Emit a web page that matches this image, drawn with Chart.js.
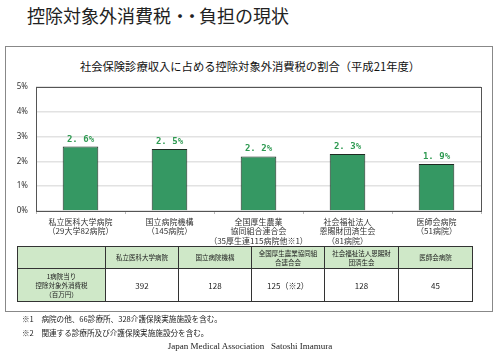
<!DOCTYPE html>
<html><head><meta charset="utf-8">
<script src="https://cdn.jsdelivr.net/npm/chart.js@4"></script>
<style>
html,body{margin:0;padding:0;background:#fff;}
body{width:500px;height:354px;position:relative;overflow:hidden;font-family:"Noto Sans CJK JP","Noto Sans",sans-serif;color:#222;}
#main{position:absolute;left:27px;top:3px;font-size:18px;line-height:24px;white-space:nowrap;}
#box{position:absolute;left:5px;top:46px;width:486px;height:264px;border:1px solid #888;}
#sub{position:absolute;left:0;width:500px;top:58px;text-align:center;font-size:11.3px;line-height:16px;white-space:nowrap;color:#111;}
#cv{position:absolute;left:0;top:0;}
table{position:absolute;left:17px;top:246px;border-collapse:collapse;table-layout:fixed;}
td{border:1px solid #333;text-align:center;vertical-align:middle;padding:0;font-size:6.5px;line-height:9px;}
td.g{background:#cfe8c8;}
td.v{font-size:8px;}
.fn{position:absolute;left:22px;font-size:7.6px;line-height:10px;white-space:nowrap;}
#credit{position:absolute;left:0;width:500px;text-align:center;top:340px;font-family:"Liberation Serif",serif;font-size:9px;line-height:12px;white-space:pre;}
</style></head><body>
<div id="main">控除対象外消費税<span style="letter-spacing:-6px">・・</span>&nbsp;負担の現状</div>
<div id="box"></div>
<div id="sub">社会保険診療収入に占める控除対象外消費税の割合（平成21年度）</div>
<canvas id="cv" width="500" height="354"></canvas>
<table id="tbl"></table>
<div class="fn" style="top:314px">※1　病院の他、66診療所、328介護保険実施施設を含む。</div>
<div class="fn" style="top:328px">※2　関連する診療所及び介護保険実施施設分を含む。</div>
<div id="credit">Japan Medical Association   Satoshi Imamura</div>
<script>
const categories = [
  ["私立医科大学病院","（29大学82病院）"],
  ["国立病院機構","（145病院）"],
  ["全国厚生農業","協同組合連合会","（35厚生連115病院他※1）"],
  ["社会福祉法人","恩賜財団済生会","（81病院）"],
  ["医師会病院","（51病院）"]
];
const shareValues = [2.6, 2.5, 2.2, 2.3, 1.9];
const valueLabels = ["2. 6%","2. 5%","2. 2%","2. 3%","1. 9%"];
const yTicks = [0,1,2,3,4,5];
const tableHeaders = ["私立医科大学病院","国立病院機構","全国厚生農業協同組合連合会","社会福祉法人恩賜財団済生会","医師会病院"];
const tableRowLabel = ["1病院当り","控除対象外消費税","（百万円）"];
const tableValues = ["392","128","125（※2）","128","45"];

// table
const colW = [88,73,73,73,74,74];
let html = '<colgroup>' + colW.map(w=>'<col style="width:'+w+'px">').join('') + '</colgroup>';
html += '<tr style="height:22px"><td class="g"></td>' + tableHeaders.map(h=>'<td class="g" style="padding:0 6px">'+h+'</td>').join('') + '</tr>';
html += '<tr style="height:33px"><td class="g">' + tableRowLabel.join('<br>') + '</td>' + tableValues.map(v=>'<td class="v">'+v+'</td>').join('') + '</tr>';
document.getElementById('tbl').innerHTML = html;

const borderPlugin = {
  id:'frame',
  afterDatasetsDraw(chart){
    const {ctx, chartArea:a} = chart;
    ctx.save();
    ctx.strokeStyle='#555'; ctx.lineWidth=1;
    ctx.strokeRect(Math.round(a.left)+0.5, Math.round(a.top)+0.5, Math.round(a.right-a.left), Math.round(a.bottom-a.top));
    ctx.restore();
  },
  afterDraw(chart){
    const {ctx} = chart;
    const meta = chart.getDatasetMeta(0);
    ctx.save();
    ctx.fillStyle='#2f9a52';
    ctx.font='bold 9px "DejaVu Sans Mono", monospace';
    ctx.textAlign='center'; ctx.textBaseline='alphabetic';
    meta.data.forEach((el,i)=>{ ctx.fillText(valueLabels[i], el.x, el.y-5); });
    ctx.restore();
  }
};

new Chart(document.getElementById('cv'), {
  type:'bar',
  data:{labels:categories, datasets:[{data:shareValues, backgroundColor:'#359863', borderColor:'#1e2a22', borderWidth:1, barPercentage:0.8, categoryPercentage:0.5}]},
  options:{
    responsive:false, animation:false,
    layout:{padding:{left:0,right:19,top:87,bottom:0}},
    plugins:{legend:{display:false}, tooltip:{enabled:false}, title:{display:false}},
    scales:{
      x:{
        offset:true,
        grid:{display:true, drawOnChartArea:false, drawTicks:true, tickLength:3, color:'#bbb', offset:true},
        border:{display:false},
        ticks:{color:'#333', font:{size:8, family:'"Noto Sans CJK JP", sans-serif'}, padding:3, maxRotation:0, autoSkip:false},
        afterFit(s){ s.height = 143; }
      },
      y:{
        min:0, max:5,
        grid:{color:'#e2e2e2', lineWidth:1.5, drawTicks:false},
        border:{display:false},
        ticks:{stepSize:1, color:'#333', font:{size:8, family:'"Noto Sans", sans-serif'}, padding:8,
          callback:(v)=> yTicks.includes(v) ? v+'%' : ''},
        afterFit(s){ s.width = 36; }
      }
    }
  },
  plugins:[borderPlugin]
});
</script>
</body></html>
